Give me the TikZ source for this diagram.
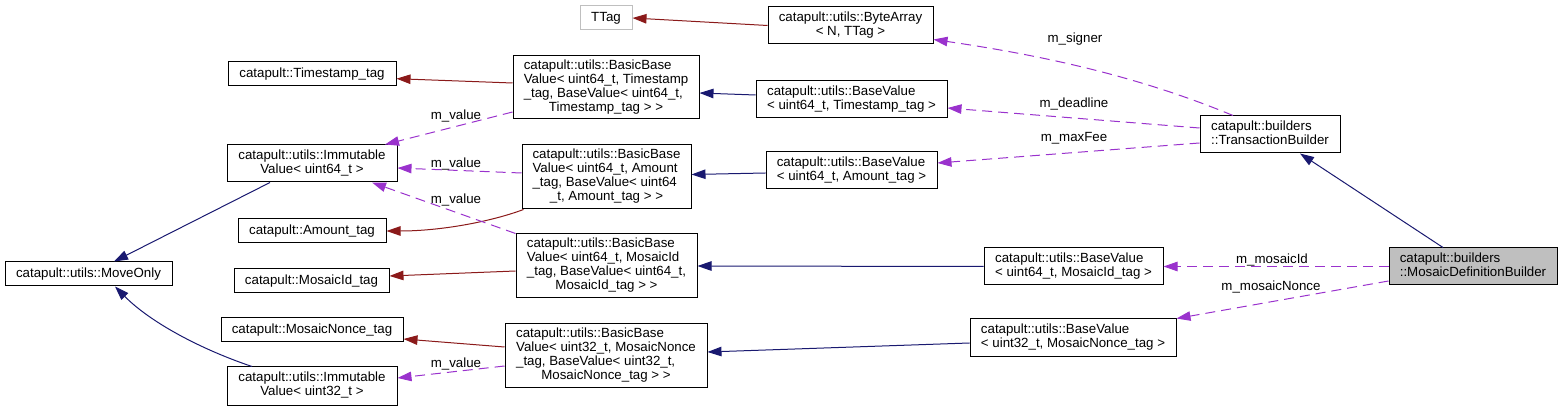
\documentclass[tikz,border=0pt]{standalone}
\usepackage{fontspec}
\setmainfont{Liberation Sans}
\usetikzlibrary{arrows.meta}
\definecolor{navyc}{HTML}{191970}
\definecolor{redc}{HTML}{8B1A1A}
\definecolor{purc}{HTML}{9A32CD}
\definecolor{greyb}{HTML}{BFBFBF}
\newcommand{\lc}[1]{\multicolumn{1}{@{}c@{}}{#1}}
\newcommand{\tb}[1]{\begin{tabular}{@{}l@{}}#1\end{tabular}}
\begin{document}
\begin{tikzpicture}[x=1pt,y=-1pt,
  font=\fontsize{13.3}{14}\selectfont,
  box/.style={draw=black, line width=1pt, inner sep=0pt, fill=white},
  inh/.style={draw=navyc, line width=1pt, -{Triangle[length=14pt,width=9.5pt]}},
  tmpl/.style={draw=redc, line width=1pt, -{Triangle[length=14pt,width=9.5pt]}},
  use/.style={draw=purc, line width=1pt, dash pattern=on 10pt off 6pt, -{Triangle[length=14pt,width=9.5pt]}},
  lbl/.style={inner sep=0pt, anchor=base}]
\useasboundingbox (0,0) rectangle (1563,411);
% nodes
\node[box, draw=greyb, minimum width=52pt, minimum height=24pt] (ttag) at (606,18) {TTag};
\node[box, minimum width=165pt, minimum height=37pt] (bytearray) at (850.5,25.5) {\tb{catapult::utils::ByteArray\\\lc{< N, TTag >}}};
\node[box, minimum width=168pt, minimum height=24pt] (tstag) at (312,74) {catapult::Timestamp\_tag};
\node[box, minimum width=186pt, minimum height=63pt] (bbts) at (606,87.5) {\tb{catapult::utils::BasicBase\\Value< uint64\_t, Timestamp\\\_tag, BaseValue< uint64\_t,\\\lc{Timestamp\_tag > >}}};
\node[box, minimum width=191pt, minimum height=37pt] (bvts) at (851.5,99.5) {\tb{catapult::utils::BaseValue\\\lc{< uint64\_t, Timestamp\_tag >}}};
\node[box, minimum width=169pt, minimum height=64pt] (bbam) at (606.5,177) {\tb{catapult::utils::BasicBase\\Value< uint64\_t, Amount\\\_tag, BaseValue< uint64\\\lc{\_t, Amount\_tag > >}}};
\node[box, minimum width=171pt, minimum height=37pt] (bvam) at (851.5,170.5) {\tb{catapult::utils::BaseValue\\\lc{< uint64\_t, Amount\_tag >}}};
\node[box, minimum width=140pt, minimum height=37pt] (tb) at (1270,134.5) {\tb{catapult::builders\\\lc{::TransactionBuilder}}};
\node[box, minimum width=170pt, minimum height=37pt] (iv64) at (312,163.5) {\tb{catapult::utils::Immutable\\\lc{Value< uint64\_t >}}};
\node[box, minimum width=148pt, minimum height=24pt] (amtag) at (312,231) {catapult::Amount\_tag};
\node[box, minimum width=167pt, minimum height=24pt] (moveonly) at (88.5,274) {catapult::utils::MoveOnly};
\node[box, minimum width=155pt, minimum height=24pt] (midtag) at (311.5,281) {catapult::MosaicId\_tag};
\node[box, minimum width=182pt, minimum height=24pt] (mntag) at (312,330) {catapult::MosaicNonce\_tag};
\node[box, minimum width=170pt, minimum height=38pt] (iv32) at (312,386) {\tb{catapult::utils::Immutable\\\lc{Value< uint32\_t >}}};
\node[box, minimum width=181pt, minimum height=64pt] (bbmid) at (606.5,266) {\tb{catapult::utils::BasicBase\\Value< uint64\_t, MosaicId\\\_tag, BaseValue< uint64\_t,\\\lc{MosaicId\_tag > >}}};
\node[box, minimum width=202pt, minimum height=63pt] (bbmn) at (606,355.5) {\tb{catapult::utils::BasicBase\\Value< uint32\_t, MosaicNonce\\\_tag, BaseValue< uint32\_t,\\\lc{MosaicNonce\_tag > >}}};
\node[box, minimum width=179pt, minimum height=37pt] (bvmid) at (1073.5,266.5) {\tb{catapult::utils::BaseValue\\\lc{< uint64\_t, MosaicId\_tag >}}};
\node[box, minimum width=206pt, minimum height=38pt] (bvmn) at (1073,338) {\tb{catapult::utils::BaseValue\\\lc{< uint32\_t, MosaicNonce\_tag >}}};
\node[box, fill=greyb, minimum width=168pt, minimum height=37pt] (mdb) at (1473,266.5) {\tb{catapult::builders\\\lc{::MosaicDefinitionBuilder}}};
% template edges
\draw[tmpl] (bytearray.west) -- (ttag.east);
\draw[tmpl] ([yshift=4.5pt]bbts.west) -- ([yshift=-4.7pt]tstag.east);
\draw[tmpl] ([xshift=2pt]bbam.south west) .. controls (490,222) and (440,231) .. (amtag.east);
\draw[tmpl] ([yshift=-5pt]bbmid.west) -- ([yshift=5pt]midtag.east);
\draw[tmpl] ([yshift=8.5pt]bbmn.west) -- ([yshift=-9pt]mntag.east);
% inheritance edges
\draw[inh] ([yshift=4.5pt]bvts.west) -- ([yshift=-5.5pt]bbts.east);
\draw[inh] ([yshift=-2.5pt]bvam.west) -- ([yshift=2.5pt]bbam.east);
\draw[inh] (bvmid.west) -- (bbmid.east);
\draw[inh] ([yshift=-5pt]bvmn.west) -- ([yshift=3.5pt]bbmn.east);
\draw[inh] ([xshift=-42pt]iv64.south) -- ([xshift=25.5pt]moveonly.north);
\draw[inh] ([xshift=-60pt]iv32.north) .. controls (200,349) and (150,322) .. ([xshift=26.5pt]moveonly.south);
\draw[inh] ([xshift=-30pt]mdb.north) -- ([xshift=30pt]tb.south);
% usage edges
\draw[use] ([xshift=-37pt]tb.north) .. controls (1133,74) and (1033,54) .. ([yshift=-14pt]bytearray.east);
\draw[use] ([yshift=6.5pt]tb.west) -- ([yshift=-8.5pt]bvts.east);
\draw[use] ([yshift=-8.5pt]tb.west) -- ([yshift=7.5pt]bvam.east);
\draw[use] ([yshift=-24.5pt]bbts.west) -- ([xshift=73pt]iv64.north);
\draw[use] ([yshift=4pt]bbam.west) -- ([yshift=-4.5pt]iv64.east);
\draw[use] (bbmid.north west) -- ([xshift=60pt]iv64.south);
\draw[use] ([yshift=-10.5pt]bbmn.west) -- ([yshift=8pt]iv32.east);
\draw[use] (mdb.west) -- (bvmid.east);
\draw[use] ([yshift=-14.5pt]mdb.west) -- (bvmn.north east);
% labels
\node[lbl] (l1) at (1075,43) {m\_signer};
\node[lbl] (l2) at (1074,108) {m\_deadline};
\node[lbl] (l3) at (1074,142) {m\_maxFee};
\node[lbl] (l4) at (456,120) {m\_value};
\node[lbl] (l5) at (456,168) {m\_value};
\node[lbl] (l6) at (456,204) {m\_value};
\node[lbl] (l7) at (456,367) {m\_value};
\node[lbl] (l8) at (1272,264) {m\_mosaicId};
\node[lbl] (l9) at (1271,291) {m\_mosaicNonce};
\end{tikzpicture}
\end{document}
